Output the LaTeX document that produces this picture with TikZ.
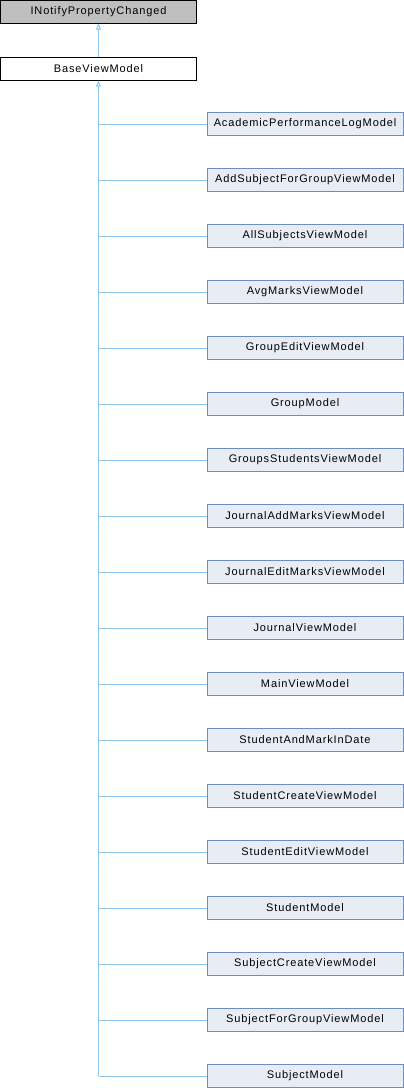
\documentclass[tikz,border=0pt]{standalone}
\usepackage{fontspec}
\setmainfont{Liberation Sans}[LetterSpace=8]
\usetikzlibrary{arrows.meta}
\definecolor{edgecol}{HTML}{8CC6EA}
\definecolor{cfill}{HTML}{E8ECF5}
\definecolor{cdraw}{HTML}{6C8EBF}
\definecolor{gfill}{HTML}{BFBFBF}
\begin{document}
\begin{tikzpicture}[x=1pt,y=1pt,
  box/.style={draw, line width=1pt, minimum width=196pt, minimum height=23pt, inner sep=0pt, font=\fontsize{11}{13}\selectfont, anchor=center},
  childbox/.style={box, fill=cfill, draw=cdraw},
  link/.style={draw=edgecol, line width=1pt},
  inh/.style={link, {Triangle[open,length=6pt,width=5pt]}-}]
\useasboundingbox (0,0) rectangle (404,-1088);
\node[box, fill=gfill] (inpc) at (98.5,-11.5) {INotifyPropertyChanged};
\node[box, fill=white] (bvm) at (98.5,-68.5) {BaseViewModel};
\draw[inh] (inpc.south) -- (bvm.north);
\foreach \n [count=\i from 0] in {AcademicPerformanceLogModel, AddSubjectForGroupViewModel, AllSubjectsViewModel, AvgMarksViewModel, GroupEditViewModel, GroupModel, GroupsStudentsViewModel, JournalAddMarksViewModel, JournalEditMarksViewModel, JournalViewModel, MainViewModel, StudentAndMarkInDate, StudentCreateViewModel, StudentEditViewModel, StudentModel, SubjectCreateViewModel, SubjectForGroupViewModel, SubjectModel} {
  \node[childbox] (c\i) at (305,{-124-56*\i}) {\n};
  \draw[link] (bvm.south |- c\i.west) -- (c\i.west);
}
\draw[inh] (bvm.south) -- (bvm.south |- c17.west);
\end{tikzpicture}
\end{document}
